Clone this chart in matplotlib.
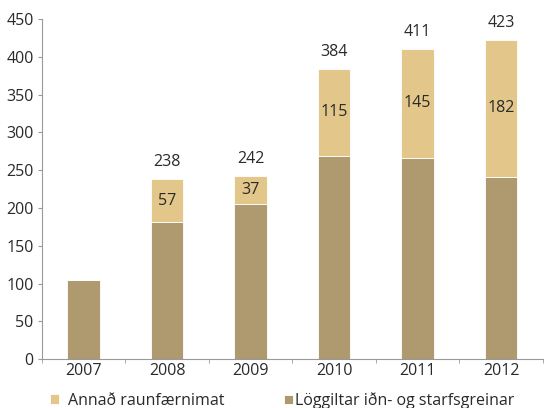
import matplotlib
matplotlib.use("Agg")
import matplotlib.pyplot as plt
import numpy as np

years = ["2007", "2008", "2009", "2010", "2011", "2012"]
loggiltar = [105, 181, 205, 269, 266, 241]
annad = [0, 57, 37, 115, 145, 182]
totals = [None, 238, 242, 384, 411, 423]

plt.rcParams['font.family'] = ['Open Sans', 'DejaVu Sans']

fig = plt.figure(figsize=(5.44, 4.08), dpi=100)
ax = fig.add_axes([0.077, 0.12, 0.921, 0.833])

c_light = '#E2C68A'
c_dark = '#AE9A6E'
tc = '#2a2a2a'
fs = 11.5
x = np.arange(len(years))
w = 0.39
b1 = ax.bar(x, loggiltar, w, color=c_dark, edgecolor='white', linewidth=0.6, label='Löggiltar iðn- og starfsgreinar')
b2 = ax.bar(x, annad, w, bottom=loggiltar, color=c_light, edgecolor='white', linewidth=0.6, label='Annað raunfærnimat')

for i in range(len(years)):
    if annad[i] > 0:
        ax.text(x[i], loggiltar[i] + annad[i] / 2, str(annad[i]), ha='center', va='center', fontsize=fs, color=tc)
    if totals[i] is not None:
        ax.text(x[i], loggiltar[i] + annad[i] + 12, str(totals[i]), ha='center', va='bottom', fontsize=fs, color=tc)

ax.set_ylim(0, 450)
ax.set_yticks(range(0, 451, 50))
ax.set_xlim(-0.5, len(years) - 0.5)
ax.set_xticks(x)
ax.set_xticklabels(years)
ax.set_xticks(np.arange(-0.5, len(years), 1.0), minor=True)
ax.tick_params(axis='x', which='major', length=0, labelsize=fs, pad=3, labelcolor=tc)
ax.tick_params(axis='x', which='minor', length=3, color='#999999')
ax.tick_params(axis='y', length=3, color='#999999', labelsize=fs, pad=3, labelcolor=tc)
for s in ['top', 'right']:
    ax.spines[s].set_visible(False)
for s in ['left', 'bottom']:
    ax.spines[s].set_color('#999999')
    ax.spines[s].set_linewidth(0.8)

leg1 = fig.legend(handles=[b2], loc='center left', bbox_to_anchor=(0.092, 0.018), frameon=False,
                  fontsize=fs, handlelength=0.55, handleheight=0.55, handletextpad=0.55, borderpad=0, borderaxespad=0)
for t in leg1.get_texts():
    t.set_color(tc)
leg2 = fig.legend(handles=[b1], loc='center left', bbox_to_anchor=(0.522, 0.018), frameon=False,
                  fontsize=fs, handlelength=0.55, handleheight=0.55, handletextpad=0.15, borderpad=0, borderaxespad=0)
for t in leg2.get_texts():
    t.set_color(tc)

fig.savefig('out.png', dpi=100)
